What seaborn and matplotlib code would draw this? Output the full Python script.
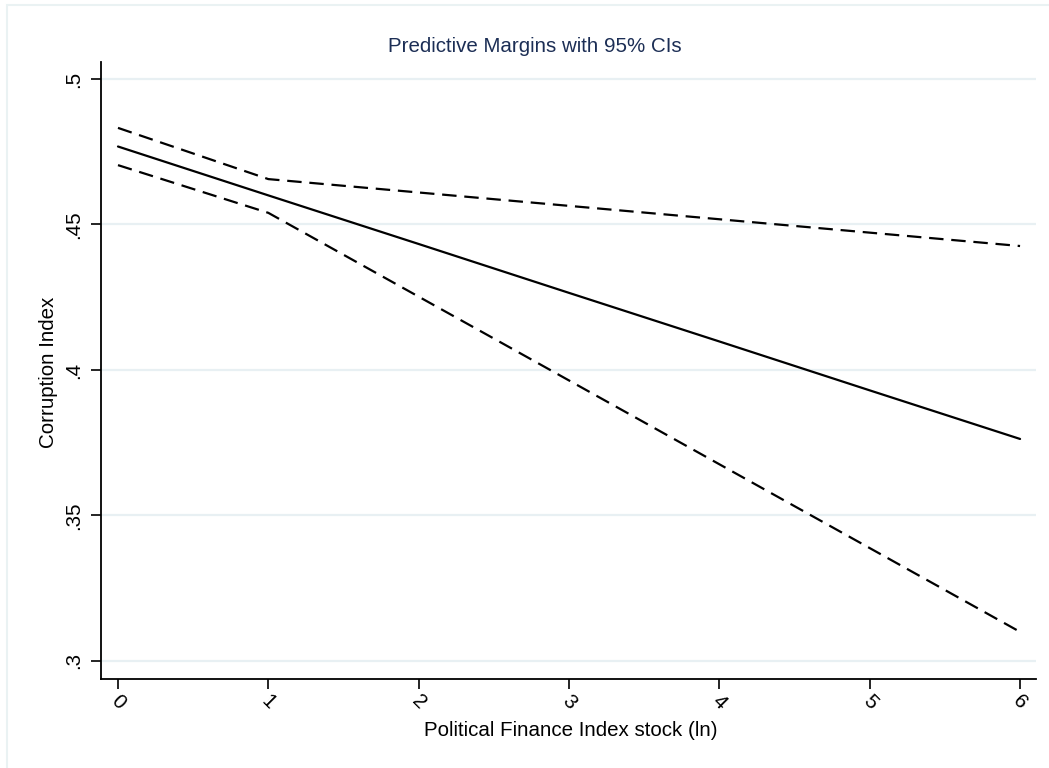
import matplotlib
matplotlib.use("Agg")
import matplotlib.pyplot as plt
import seaborn as sns
import pandas as pd
from matplotlib.patches import Rectangle

# Data
x_vals = [0, 1, 2, 3, 4, 5, 6]
margin = [0.4768, 0.4600, 0.4433, 0.4265, 0.4098, 0.3930, 0.3763]
ci_upper = [0.4832, 0.4656, 0.4610, 0.4564, 0.4518, 0.4472, 0.4426]
ci_lower = [0.4704, 0.4540, 0.4252, 0.3964, 0.3676, 0.3388, 0.3100]
y_ticks = [0.3, 0.35, 0.4, 0.45, 0.5]
y_tick_labels = [".3", ".35", ".4", ".45", ".5"]
x_ticks = [0, 1, 2, 3, 4, 5, 6]

title = "Predictive Margins with 95% CIs"
x_label = "Political Finance Index stock (ln)"
y_label = "Corruption Index"

df = pd.DataFrame({"x": x_vals, "margin": margin, "upper": ci_upper, "lower": ci_lower})

sns.set_theme(style="white")
plt.rcParams["font.family"] = ["Liberation Sans", "DejaVu Sans"]

FS = 14.8
W, H = 1049, 768
fig = plt.figure(figsize=(W / 100, H / 100), dpi=100)
fig.patch.set_facecolor("white")
fig.patches.append(Rectangle((7 / W, -0.1), 1.2, (H - 5) / H + 0.1, transform=fig.transFigure,
                             fill=False, edgecolor="#eaf2f3", linewidth=1.5))

ax = fig.add_axes([101 / W, (H - 679) / H, (1036 - 101) / W, (679 - 62) / H])
ax.set_facecolor("white")

for yt in y_ticks:
    ax.axhline(yt, color="#e8f0f3", linewidth=1.6, zorder=0)

sns.lineplot(data=df, x="x", y="margin", ax=ax, color="black", linewidth=1.6)
sns.lineplot(data=df, x="x", y="upper", ax=ax, color="black", linewidth=1.6)
sns.lineplot(data=df, x="x", y="lower", ax=ax, color="black", linewidth=1.6)
lines = ax.get_lines()
for ln in lines[-2:]:
    ln.set_dashes((6.5, 3.5))

ax.set_xlim(-0.113, 6.106)
ax.set_ylim(0.29381, 0.50584)

ax.set_yticks(y_ticks)
ax.set_yticklabels(y_tick_labels, rotation=90, va="center", fontsize=FS)
ax.set_xticks(x_ticks)
ax.set_xticklabels([str(v) for v in x_ticks], rotation=-45, ha="center", va="top",
                   fontsize=FS)

for s in ["top", "right"]:
    ax.spines[s].set_visible(False)
for s in ["left", "bottom"]:
    ax.spines[s].set_color("black")
    ax.spines[s].set_linewidth(1.3)

ax.tick_params(axis="both", which="major", direction="out", length=7, width=1.2,
               color="black", labelcolor="black", left=True, bottom=True)
ax.tick_params(axis="y", pad=6)
ax.tick_params(axis="x", pad=2)

ax.set_xlabel("")
ax.set_ylabel("")
fig.text(571 / W, 1 - 736 / H, x_label, ha="center", va="baseline", fontsize=FS, color="black")
fig.text(58 / W, 1 - 372 / H, y_label, ha="right", va="center", rotation=90, fontsize=FS,
         color="black", rotation_mode="default")
fig.text(535 / W, 1 - 52 / H, title, ha="center", va="baseline", fontsize=FS, color="#1c2e55")

fig.savefig("out.png", dpi=100, facecolor="white")
